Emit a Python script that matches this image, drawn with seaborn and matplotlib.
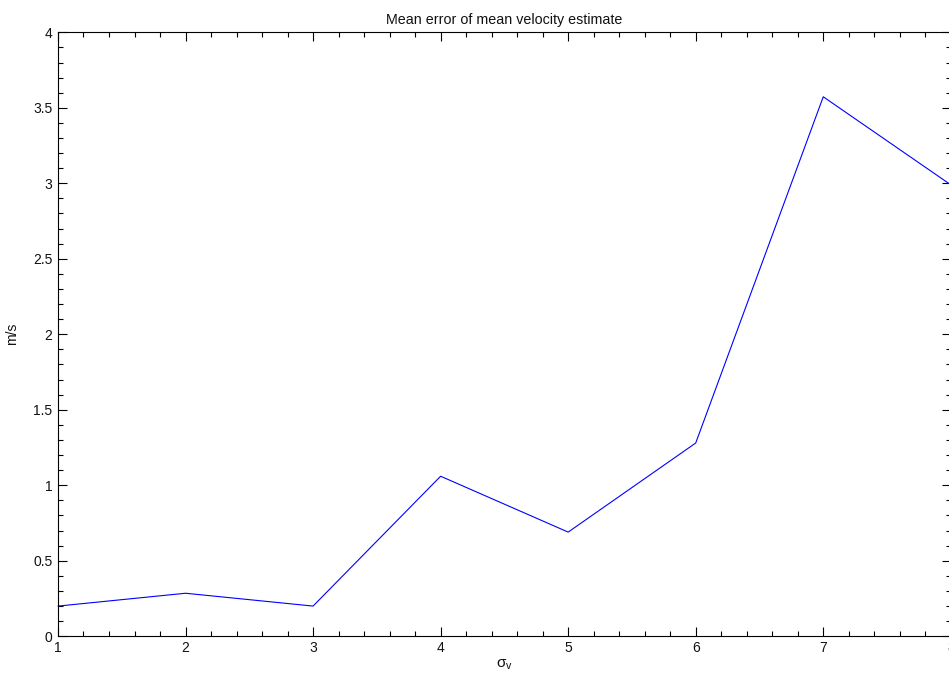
import matplotlib
matplotlib.use("Agg")
import matplotlib.pyplot as plt
from matplotlib.ticker import MultipleLocator
import seaborn as sns
import pandas as pd

# sigma_v levels and the mean error of the mean velocity estimate (m/s)
sigma_v = [1, 2, 3, 4, 5, 6, 7, 8]
mean_error = [0.20, 0.285, 0.20, 1.06, 0.69, 1.28, 3.573, 2.99]

sns.set_theme(style="white")
plt.rcParams["font.family"] = ["Liberation Sans", "DejaVu Sans"]

df = pd.DataFrame({"sigma_v": sigma_v, "error": mean_error})

fig = plt.figure(figsize=(9.49, 6.83), dpi=100)
ax = fig.add_axes([0.0611, 0.0684, 0.9408, 0.8843])

sns.lineplot(data=df, x="sigma_v", y="error", ax=ax, color="#0000ff",
             linewidth=0.8, clip_on=False)

ax.set_xlim(1, 8)
ax.set_ylim(0, 4)
ax.xaxis.set_major_locator(MultipleLocator(1))
ax.xaxis.set_minor_locator(MultipleLocator(0.2))
ax.yaxis.set_major_locator(MultipleLocator(0.5))
ax.yaxis.set_minor_locator(MultipleLocator(0.1))
ax.yaxis.set_major_formatter(plt.FuncFormatter(lambda v, p: f"{v:g}"))

for side in ["left", "bottom", "top", "right"]:
    ax.spines[side].set_visible(True)
    ax.spines[side].set_color("black")
    ax.spines[side].set_linewidth(0.8)

ax.tick_params(which="both", direction="in", top=True, right=True,
               bottom=True, left=True, color="black", width=0.8)
ax.tick_params(which="major", length=6.5, labelsize=10, labelcolor="#111111")
ax.tick_params(which="minor", length=3.5)
ax.tick_params(axis="x", which="major", pad=3.5)
ax.tick_params(axis="y", which="major", pad=4)

ax.set_title("Mean error of mean velocity estimate", fontsize=10.3,
             color="#111111", pad=6)
ax.set_xlabel(r"$\mathregular{\sigma_v}$", fontsize=11, color="#111111",
              labelpad=2)
ax.set_ylabel("m/s", fontsize=10, color="#111111", labelpad=10)
ax.grid(False)

fig.savefig("out.png", dpi=100, facecolor="white")
